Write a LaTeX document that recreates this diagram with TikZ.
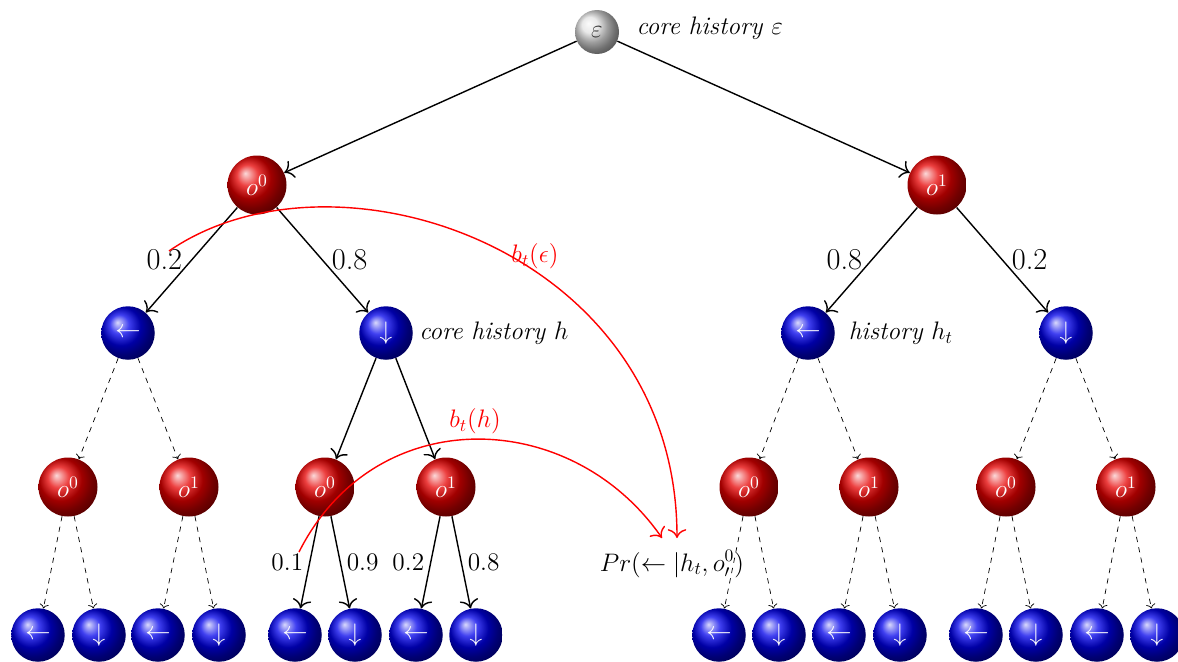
\documentclass[tikz,border=0pt]{standalone}
\usetikzlibrary{
  positioning,
  shadings,
  arrows.meta,
  calc
}
\definecolor{obscolor}{RGB}{230,0,0}
\definecolor{actcolor}{RGB}{0,0,235}
\definecolor{rootcolor}{RGB}{225,225,225}
\definecolor{beliefcolor}{RGB}{255,0,0}
\tikzset{
  obsball/.style={
    circle,
    ball color=obscolor,
    text=white,
    font=\Large,
    inner sep=0pt,
    minimum size=1.18cm
  },
  actball/.style={
    circle,
    ball color=actcolor,
    text=white,
    font=\Large,
    inner sep=0pt,
    minimum size=1.07cm
  },
  rootball/.style={
    circle,
    ball color=rootcolor,
    text=black!80,
    font=\Large,
    inner sep=0pt,
    minimum size=0.88cm
  },
  arrow/.style={
    -{To[scale=1.5]},
    thick
  },
  dasharrow/.style={
    ->,
    dashed
  },
  belief/.style={
    -{To[scale=1.5]},
    thick,
    color=beliefcolor
  },
  bigprob/.style={
    font=\LARGE,
    inner sep=0.5em
  },
  smallprob/.style={
    font=\Large
  },
  histlabel/.style={
    font=\Large\itshape
  }
}

\begin{document}
\begin{tikzpicture}

  \useasboundingbox (0,0) rectangle (23.56,-13.22);

  % Root
  \node[rootball] (root) at (11.94,-0.64) {$\varepsilon$};
  \node[histlabel, right=0.22cm of root, yshift=0.08cm] (rootlbl) {core history $\varepsilon$};

  % First observation
  \node[obsball] (h0) at (5.14,-3.70) {$o^0$};
  \node[obsball] (h1) at (18.74,-3.70) {$o^1$};

  % Actions
  \node[actball] (h0l) at (2.56,-6.66) {$\leftarrow$};
  \node[actball] (h0d) at (7.72,-6.66) {$\downarrow$};
  \node[actball] (h1l) at (16.16,-6.66) {$\leftarrow$};
  \node[actball] (h1d) at (21.32,-6.66) {$\downarrow$};
  \node[histlabel, right=0cm of h0d] (corelbl) {core history $h$};
  \node[histlabel, right=0.15cm of h1l] (htlbl) {history $h_t$};

  % Second observation
  \node[obsball] (h0l0) at (1.36,-9.74) {$o^0$};
  \node[obsball] (h0l1) at (3.78,-9.74) {$o^1$};
  \node[obsball] (h0d0) at (6.50,-9.74) {$o^0$};
  \node[obsball] (h0d1) at (8.92,-9.74) {$o^1$};
  \node[obsball] (h1l0) at (14.98,-9.74) {$o^0$};
  \node[obsball] (h1l1) at (17.38,-9.74) {$o^1$};
  \node[obsball] (h1d0) at (20.12,-9.74) {$o^0$};
  \node[obsball] (h1d1) at (22.52,-9.74) {$o^1$};

  % Second actions
  \node[actball] (h0l0l) at (0.76,-12.70) {$\leftarrow$};
  \node[actball] (h0l0d) at (1.98,-12.70) {$\downarrow$};
  \node[actball] (h0l1l) at (3.16,-12.70) {$\leftarrow$};
  \node[actball] (h0l1d) at (4.38,-12.70) {$\downarrow$};
  \node[actball] (h0d0l) at (5.90,-12.70) {$\leftarrow$};
  \node[actball] (h0d0d) at (7.10,-12.70) {$\downarrow$};
  \node[actball] (h0d1l) at (8.32,-12.70) {$\leftarrow$};
  \node[actball] (h0d1d) at (9.52,-12.70) {$\downarrow$};
  \node[actball] (h1l0l) at (14.38,-12.70) {$\leftarrow$};
  \node[actball] (h1l0d) at (15.58,-12.70) {$\downarrow$};
  \node[actball] (h1l1l) at (16.78,-12.70) {$\leftarrow$};
  \node[actball] (h1l1d) at (18.00,-12.70) {$\downarrow$};
  \node[actball] (h1d0l) at (19.52,-12.70) {$\leftarrow$};
  \node[actball] (h1d0d) at (20.72,-12.70) {$\downarrow$};
  \node[actball] (h1d1l) at (21.94,-12.70) {$\leftarrow$};
  \node[actball] (h1d1d) at (23.14,-12.70) {$\downarrow$};

  % Query
  \node[font=\Large] (pr) at (13.44,-11.28) {$Pr(\leftarrow|h_t,o^0_\prime)$};

  % Tree edges
  \draw[arrow] (root) -- (h0);
  \draw[arrow] (root) -- (h1);

  \draw[arrow] (h0) -- node[bigprob, left] (p0l) {0.2} (h0l);
  \draw[arrow] (h0) -- node[bigprob, right] (p0d) {0.8} (h0d);
  \draw[arrow] (h1) -- node[bigprob, left] (p1l) {0.8} (h1l);
  \draw[arrow] (h1) -- node[bigprob, right] (p1d) {0.2} (h1d);

  \draw[dasharrow] (h0l) -- (h0l0);
  \draw[dasharrow] (h0l) -- (h0l1);
  \draw[arrow] (h0d) -- (h0d0);
  \draw[arrow] (h0d) -- (h0d1);
  \draw[dasharrow] (h1l) -- (h1l0);
  \draw[dasharrow] (h1l) -- (h1l1);
  \draw[dasharrow] (h1d) -- (h1d0);
  \draw[dasharrow] (h1d) -- (h1d1);

  \draw[dasharrow] (h0l0) -- (h0l0l);
  \draw[dasharrow] (h0l0) -- (h0l0d);
  \draw[dasharrow] (h0l1) -- (h0l1l);
  \draw[dasharrow] (h0l1) -- (h0l1d);
  \draw[arrow] (h0d0) -- node[smallprob, left] (p00l) {0.1} (h0d0l);
  \draw[arrow] (h0d0) -- node[smallprob, right] (p00d) {0.9} (h0d0d);
  \draw[arrow] (h0d1) -- node[smallprob, left] (p01l) {0.2} (h0d1l);
  \draw[arrow] (h0d1) -- node[smallprob, right] (p01d) {0.8} (h0d1d);
  \draw[dasharrow] (h1l0) -- (h1l0l);
  \draw[dasharrow] (h1l0) -- (h1l0d);
  \draw[dasharrow] (h1l1) -- (h1l1l);
  \draw[dasharrow] (h1l1) -- (h1l1d);
  \draw[dasharrow] (h1d0) -- (h1d0l);
  \draw[dasharrow] (h1d0) -- (h1d0d);
  \draw[dasharrow] (h1d1) -- (h1d1l);
  \draw[dasharrow] (h1d1) -- (h1d1d);

  % Beliefs
  \coordinate (bestart) at (3.38,-5.02);
  \coordinate (bhstart) at (5.98,-11.04);
  \coordinate (betip) at ($(pr)+(0.10,0.52)$);
  \coordinate (bhtip) at ($(pr)+(-0.20,0.52)$);
  \draw[belief] (bestart) .. controls (6.68,-2.74) and (13.54,-4.96) .. (betip);
  \draw[belief] (bhstart) .. controls (7.50,-8.02) and (11.42,-8.14) .. (bhtip);
  \node[font=\Large, text=beliefcolor] (belbl) at (10.70,-5.12) {$b_t(\epsilon)$};
  \node[font=\Large, text=beliefcolor] (bhlbl) at (9.50,-8.42) {$b_t(h)$};

\end{tikzpicture}
\end{document}
